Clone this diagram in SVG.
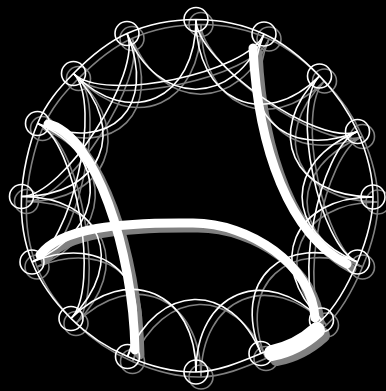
<svg xmlns="http://www.w3.org/2000/svg" xmlns:xlink="http://www.w3.org/1999/xlink" width="386" height="391" viewBox="0 0 386 391">
<style>
.ln{fill:none;stroke-width:1.6}
.nd{fill:none;stroke-width:1.6}
.tk{fill:none;stroke-width:9;stroke-linecap:round}
.bl{fill:none;stroke-width:16;stroke-linecap:round}
</style>
<rect width="386" height="391" fill="#000"/>
<g id="shadow" transform="translate(5,5)" stroke="#808080">
<use href="#connectors" xlink:href="#connectors"/>
<use href="#nodes" xlink:href="#nodes"/>
</g>
<g stroke="#fff">
<g id="connectors">
<path id="ring" class="ln" d="M196,19.5 C218.83,19.58 243.42,24.58 264,34 C284.58,43.42 303.92,59.75 319.5,76 C335.08,92.25 348.58,111.33 357.5,131.5 C366.42,151.67 373,175.25 373,197 C373,218.75 366.08,241.5 357.5,262 C348.92,282.5 337.58,304.75 321.5,320 C305.42,335.25 281.92,344.83 261,353.5 C240.08,362.17 218.25,371.5 196,372 C173.75,372.5 148.33,365.42 127.5,356.5 C106.67,347.58 86.92,334.25 71,318.5 C55.08,302.75 40.25,282.33 32,262 C23.75,241.67 20.58,219.58 21.5,196.5 C22.42,173.42 28.83,144 37.5,123.5 C46.17,103 58.58,88.5 73.5,73.5 C88.42,58.5 106.58,42.5 127,33.5 C147.42,24.5 173.17,19.58 196,19.5 Z"/>
<path class="ln" d="M196,19.5 C196,99.5 263,132.5 319.5,76"/>
<path class="ln" d="M264,34 C233.4,107.9 283.6,162.1 357.5,131.5"/>
<path class="ln" d="M319.5,76 C263,132.5 293,197 373,197"/>
<path class="ln" d="M357.5,131.5 C283.6,162.1 283.6,231.4 357.5,262"/>
<path class="ln" d="M373,197 C293,197 265,263.5 321.5,320"/>
<path class="ln" d="M357.5,262 C283.6,231.4 230.4,279.6 261,353.5"/>
<path class="ln" d="M321.5,320 C265,263.5 196,292 196,372"/>
<path class="ln" d="M261,353.5 C230.4,279.6 158.1,282.6 127.5,356.5"/>
<path class="ln" d="M196,372 C196,292 127.5,262 71,318.5"/>
<path class="ln" d="M127.5,356.5 C158.1,282.6 105.9,231.4 32,262"/>
<path class="ln" d="M71,318.5 C127.5,262 101.5,196.5 21.5,196.5"/>
<path class="ln" d="M32,262 C105.9,231.4 111.4,154.1 37.5,123.5"/>
<path class="ln" d="M21.5,196.5 C101.5,196.5 130,130 73.5,73.5"/>
<path class="ln" d="M37.5,123.5 C111.4,154.1 157.6,107.4 127,33.5"/>
<path class="ln" d="M73.5,73.5 C130,130 196,99.5 196,19.5"/>
<path class="ln" d="M127,33.5 C157.6,107.4 233.4,107.9 264,34"/>
<path class="ln" d="M196,19.5 C196,61.5 318.7,147.6 357.5,131.5"/>
<path class="ln" d="M319.5,76 C289.8,105.7 318.7,245.9 357.5,262"/>
<path class="ln" d="M357.5,131.5 C318.7,147.6 291.8,290.3 321.5,320"/>
<path class="ln" d="M71,318.5 C100.7,288.8 76.3,139.6 37.5,123.5"/>
<path class="ln" d="M32,262 C70.8,245.9 103.2,103.2 73.5,73.5"/>
<path class="ln" d="M21.5,196.5 C63.5,196.5 143.1,72.3 127,33.5"/>
<path class="ln" d="M73.5,73.5 C103.2,103.2 247.9,72.8 264,34"/>
<path class="tk" d="M253,48 C258,150 290,235 347,264"/>
<path class="tk" d="M48,124 C95,135 133,250 135,350"/>
<path class="tk" d="M40,255 C60,228 120,222 193,223 C250,223 312,265 315,318"/>
<path class="bl" d="M317,330 Q297,348 272,353"/>
</g>
<g id="nodes">
<g id="n0"><circle class="nd" cx="196" cy="19.5" r="12"/></g>
<g id="n1"><circle class="nd" cx="264" cy="34" r="12"/></g>
<g id="n2"><circle class="nd" cx="319.5" cy="76" r="12"/></g>
<g id="n3"><circle class="nd" cx="357.5" cy="131.5" r="12"/></g>
<g id="n4"><circle class="nd" cx="373" cy="197" r="12"/></g>
<g id="n5"><circle class="nd" cx="357.5" cy="262" r="12"/></g>
<g id="n6"><circle class="nd" cx="321.5" cy="320" r="12"/></g>
<g id="n7"><circle class="nd" cx="261" cy="353.5" r="12"/></g>
<g id="n8"><circle class="nd" cx="196" cy="372" r="12"/></g>
<g id="n9"><circle class="nd" cx="127.5" cy="356.5" r="12"/></g>
<g id="n10"><circle class="nd" cx="71" cy="318.5" r="12"/></g>
<g id="n11"><circle class="nd" cx="32" cy="262" r="12"/></g>
<g id="n12"><circle class="nd" cx="21.5" cy="196.5" r="12"/></g>
<g id="n13"><circle class="nd" cx="37.5" cy="123.5" r="12"/></g>
<g id="n14"><circle class="nd" cx="73.5" cy="73.5" r="12"/></g>
<g id="n15"><circle class="nd" cx="127" cy="33.5" r="12"/></g>
</g>
</g>
</svg>
